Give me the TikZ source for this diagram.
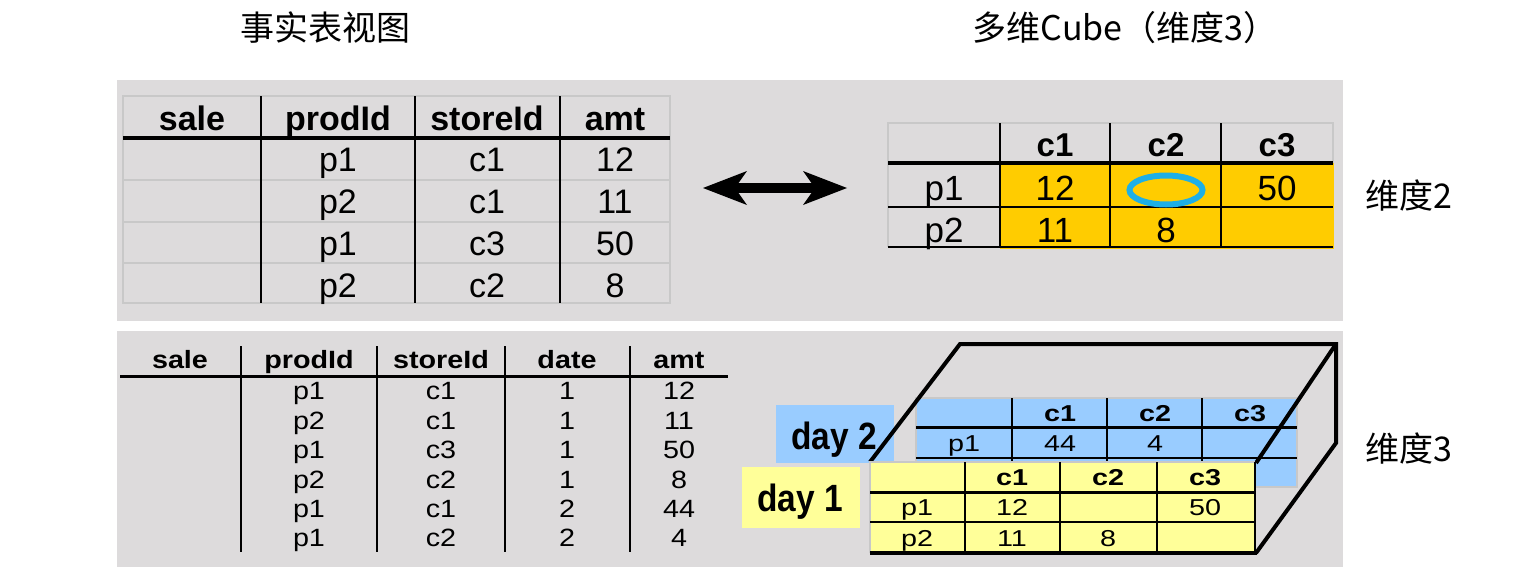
\documentclass[tikz,border=0pt]{standalone}
\usepackage{fontspec}
\setmainfont{Liberation Sans}
\newfontfamily\cjk{Noto Sans CJK SC}
\newfontfamily\widefont[FakeStretch=1.25]{Liberation Sans}
\newfontfamily\midfont[FakeStretch=1.15]{Liberation Sans}
\newfontfamily\narrowfont[FakeStretch=0.88]{Liberation Sans}
\usetikzlibrary{arrows.meta,shapes.geometric}
\definecolor{panel}{RGB}{221,219,220}
\definecolor{gold}{RGB}{255,204,0}
\definecolor{paleyellow}{RGB}{255,255,153}
\definecolor{paleblue}{RGB}{153,204,255}
\definecolor{ringblue}{RGB}{30,175,230}
\definecolor{cellgrey}{RGB}{200,200,200}
\begin{document}
\begin{tikzpicture}[x=1pt,y=-1pt,
  title/.style={font=\cjk\fontsize{34}{40}\selectfont, inner sep=0pt},
  th1/.style={font=\fontsize{34}{40}\selectfont\bfseries, text height=24.3pt, text depth=0pt, inner sep=0pt},
  tb1/.style={font=\fontsize{34}{40}\selectfont, text height=24.3pt, text depth=0pt, inner sep=0pt},
  th2/.style={font=\fontsize{33}{40}\selectfont\bfseries, text height=23.6pt, text depth=0pt, inner sep=0pt},
  tb2/.style={font=\fontsize{35}{40}\selectfont, text height=25pt, text depth=0pt, inner sep=0pt},
  th3/.style={font=\midfont\fontsize{25}{30}\selectfont\bfseries, text height=17.9pt, text depth=0pt, inner sep=0pt},
  tb3/.style={font=\midfont\fontsize{25}{30}\selectfont, text height=17.9pt, text depth=0pt, inner sep=0pt},
  th4/.style={font=\widefont\fontsize{23}{28}\selectfont\bfseries, text height=16.5pt, text depth=0pt, inner sep=0pt},
  tb4/.style={font=\widefont\fontsize{23}{28}\selectfont, text height=16.5pt, text depth=0pt, inner sep=0pt},
  dayl/.style={font=\narrowfont\fontsize{38}{44}\selectfont\bfseries, text height=27.2pt, text depth=0pt, inner sep=0pt},
  greyline/.style={cellgrey, line width=1.5pt},
  thickrule/.style={black, line width=4pt},
  rule/.style={black, line width=2.5pt},
  thinrule/.style={black, line width=2pt}
]
\useasboundingbox (0,0) rectangle (1528,578);
\fill[white] (0,0) rectangle (1528,578);

% titles
\node[title] (t1) at (325,28) {事实表视图};
\node[title] (t2) at (1125,28) {多维Cube（维度3）};

% panels
\fill[panel] (117,80) rectangle (1343,321);
\fill[panel] (117,331) rectangle (1343,567);

% ---------- top fact table ----------
\draw[greyline] (123,96) rectangle (670,303);
\foreach \y in {180,222,263} \draw[greyline] (123,\y) -- (670,\y);
\draw[thickrule] (123,138) -- (670,138);
\foreach \x in {261,415,560} \draw[rule] (\x,96) -- (\x,303);
\foreach \t/\x [count=\i] in {sale/192, prodId/338, storeId/487, amt/615}
  \node[th1] (fh\i) at (\x,118) {\t};
\foreach \p/\c/\a [count=\i] in {p1/c1/12, p2/c1/11, p1/c3/50, p2/c2/8} {
  \node[tb1] (fp\i) at (338,{117+42*\i}) {\p};
  \node[tb1] (fc\i) at (487,{117+42*\i}) {\c};
  \node[tb1] (fa\i) at (615,{117+42*\i}) {\a};
}

% ---------- double arrow ----------
\coordinate (aL) at (703,188);
\coordinate (aR) at (847,188);
\draw[line width=10pt, arrows={Stealth[length=44pt,width=34pt,inset=12pt,line width=0pt]-Stealth[length=44pt,width=34pt,inset=12pt,line width=0pt]}] (aL) -- (aR);

% ---------- 2D cube table ----------
\fill[gold] (1000,163) rectangle (1334,249);
\draw[greyline] (888,247) -- (888,123) -- (1333,123) -- (1333,163);
\draw[thickrule] (888,163) -- (1333,163);
\draw[thinrule] (888,207) -- (1333,207);
\draw[rule] (888,247) -- (1333,247);
\foreach \x in {1000,1110,1221} \draw[rule] (\x,123) -- (\x,247);
\node[th2] (ch1) at (1055,145) {c1};
\node[th2] (ch2) at (1166,145) {c2};
\node[th2] (ch3) at (1277,145) {c3};
\node[tb2] (cp1) at (944,188) {p1};
\node[tb2] (cp2) at (944,230) {p2};
\node[tb2] (cv11) at (1055,188) {12};
\node[tb2] (cv13) at (1277,188) {50};
\node[tb2] (cv21) at (1055,230) {11};
\node[tb2] (cv22) at (1166,230) {8};
\node[draw=ringblue, line width=6pt, ellipse, minimum width=73pt, minimum height=29pt, inner sep=0pt] (ring) at (1166,190) {};

\node[title] (dim2) at (1409,196) {维度2};

% ---------- bottom fact table ----------
\draw[line width=3pt] (120,376) -- (728,376);
\foreach \x in {241,377,505,630} \draw[rule] (\x,346) -- (\x,552);
\foreach \t/\x [count=\i] in {sale/180, prodId/309, storeId/441, date/567, amt/679}
  \node[th3] (bh\i) at (\x,360) {\t};
\foreach \p/\c/\d/\a [count=\i] in {p1/c1/1/12, p2/c1/1/11, p1/c3/1/50, p2/c2/1/8, p1/c1/2/44, p1/c2/2/4} {
  \node[tb3] (bp\i) at (309,{361.6+29.4*\i}) {\p};
  \node[tb3] (bc\i) at (441,{361.6+29.4*\i}) {\c};
  \node[tb3] (bd\i) at (567,{361.6+29.4*\i}) {\d};
  \node[tb3] (ba\i) at (679,{361.6+29.4*\i}) {\a};
}

% ---------- 3D cube ----------
% day 2 label
\fill[paleblue] (776,405) rectangle (894,463);
\node[dayl] (day2) at (834,436) {day 2};
% day 2 table
\fill[paleblue] (916,398) rectangle (1297,487);
\draw[greyline] (916,398) rectangle (1297,487);
\draw[line width=3pt] (916,427) -- (1297,427);
\draw[thinrule] (916,458) -- (1297,458);
\foreach \x in {1012,1107,1202} \draw[rule] (\x,398) -- (\x,487);
\node[th4] (bh1) at (1060,413) {c1};
\node[th4] (bh2) at (1155,413) {c2};
\node[th4] (bh3) at (1250,413) {c3};
\node[tb4] (bp1) at (964,443) {p1};
\node[tb4] (bv1) at (1060,443) {44};
\node[tb4] (bv2) at (1155,443) {4};
% cube edges
\draw[line width=4pt, line join=miter] (870,462) -- (960,344) -- (1336,344) -- (1336,443) -- (1256,553);
\draw[line width=4pt] (1336,344) -- (1256,463);
% day 1 label
\fill[paleyellow] (742,467) rectangle (860,528);
\node[dayl] (day1) at (800,498) {day 1};
% day 1 table
\fill[paleyellow] (870,462) rectangle (1255,553);
\draw[greyline] (870,553) -- (870,462) -- (1255,462);
\draw[thinrule] (1255,462) -- (1255,553);
\draw[line width=3pt] (870,492) -- (1255,492);
\draw[thinrule] (870,522) -- (1255,522);
\draw[thickrule] (870,553) -- (1257,553);
\foreach \x in {965,1060,1157} \draw[rule] (\x,462) -- (\x,553);
\node[th4] (yh1) at (1012,477) {c1};
\node[th4] (yh2) at (1108,477) {c2};
\node[th4] (yh3) at (1205,477) {c3};
\node[tb4] (yp1) at (917,507) {p1};
\node[tb4] (yp2) at (917,538) {p2};
\node[tb4] (yv11) at (1012,507) {12};
\node[tb4] (yv13) at (1205,507) {50};
\node[tb4] (yv21) at (1012,538) {11};
\node[tb4] (yv22) at (1108,538) {8};

\node[title] (dim3) at (1409,449) {维度3};
\end{tikzpicture}
\end{document}
